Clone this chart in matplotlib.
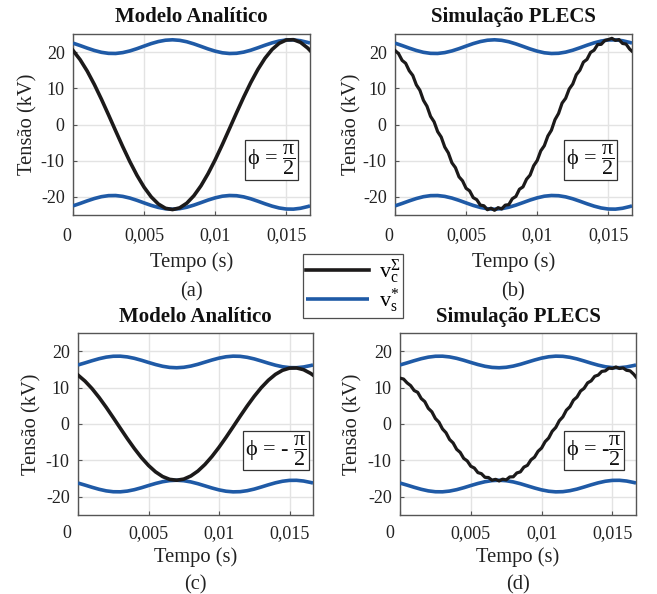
import matplotlib
matplotlib.use("Agg")
import matplotlib.pyplot as plt
import matplotlib.transforms as mtransforms
import numpy as np

plt.rcParams['font.family'] = ['Liberation Serif', 'DejaVu Serif']
plt.rcParams['mathtext.fontset'] = 'custom'
plt.rcParams['mathtext.rm'] = 'Liberation Serif'
plt.rcParams['mathtext.it'] = 'Liberation Serif:italic'
plt.rcParams['mathtext.bf'] = 'Liberation Serif:bold'

# ---------------- data ----------------
# time grid for analytic curves (s)
t_coarse = [0.0, 0.0005, 0.001, 0.0015, 0.002, 0.0025, 0.003, 0.0035, 0.004, 0.0045,
            0.005, 0.0055, 0.006, 0.0065, 0.007, 0.0075, 0.008, 0.0085, 0.009, 0.0095,
            0.010, 0.0105, 0.011, 0.0115, 0.012, 0.0125, 0.013, 0.0135, 0.014, 0.0145,
            0.015, 0.0155, 0.016, 0.0165, 0.016667]

# time grid for PLECS curves (s)
t_fine = [0.0, 0.00025, 0.0005, 0.00075, 0.001, 0.00125, 0.0015, 0.00175, 0.002, 0.00225,
          0.0025, 0.00275, 0.003, 0.00325, 0.0035, 0.00375, 0.004, 0.00425, 0.0045, 0.00475,
          0.005, 0.00525, 0.0055, 0.00575, 0.006, 0.00625, 0.0065, 0.00675, 0.007, 0.00725,
          0.0075, 0.00775, 0.008, 0.00825, 0.0085, 0.00875, 0.009, 0.00925, 0.0095, 0.00975,
          0.010, 0.01025, 0.0105, 0.01075, 0.011, 0.01125, 0.0115, 0.01175, 0.012, 0.01225,
          0.0125, 0.01275, 0.013, 0.01325, 0.0135, 0.01375, 0.014, 0.01425, 0.0145, 0.01475,
          0.015, 0.01525, 0.0155, 0.01575, 0.016, 0.01625, 0.0165, 0.016667]

# (a) analytic, phi = pi/2  (kV)
vc_a = [20.45, 17.91, 14.75, 11.06, 6.98, 2.65, -1.77, -6.13, -10.27, -14.05,
        -17.33, -20.00, -21.96, -23.14, -23.50, -23.03, -21.74, -19.68, -16.93, -13.57,
        -9.74, -5.56, -1.18, 3.24, 7.54, 11.58, 15.20, 18.29, 20.73, 22.44,
        23.35, 23.43, 22.69, 21.14, 20.45]
vs_up_1 = [22.48, 21.81, 21.10, 20.45, 19.94, 19.65, 19.62, 19.86, 20.32, 20.95,
           21.66, 22.35, 22.91, 23.28, 23.40, 23.25, 22.86, 22.27, 21.58, 20.87,
           20.26, 19.81, 19.61, 19.67, 19.99, 20.52, 21.19, 21.90, 22.55, 23.06,
           23.35, 23.38, 23.14, 22.68, 22.48]
vs_lo_1 = [-22.48, -21.81, -21.10, -20.45, -19.94, -19.65, -19.62, -19.86, -20.32, -20.95,
           -21.66, -22.35, -22.91, -23.28, -23.40, -23.25, -22.86, -22.27, -21.58, -20.87,
           -20.26, -19.81, -19.61, -19.67, -19.99, -20.52, -21.19, -21.90, -22.55, -23.06,
           -23.35, -23.38, -23.14, -22.68, -22.48]

# (b) PLECS, phi = pi/2 (kV)
vc_b = [20.45, 19.57, 17.71, 16.91, 14.85, 13.56, 10.96, 9.46, 6.68, 5.04,
        2.25, 0.74, -1.97, -3.47, -6.23, -7.84, -10.57, -11.92, -14.45, -15.56,
        -17.63, -18.34, -20.20, -20.77, -22.26, -22.45, -23.54, -23.12, -23.70, -22.97,
        -23.33, -22.28, -22.14, -20.50, -19.88, -17.89, -17.23, -15.12, -13.97, -11.41,
        -9.94, -7.28, -5.86, -3.18, -1.58, 1.33, 3.04, 5.91, 7.24, 9.80,
        11.18, 13.75, 15.00, 17.23, 17.99, 19.90, 20.53, 22.08, 22.14, 23.20,
        23.45, 23.80, 23.23, 23.46, 22.39, 22.21, 20.84, 20.25]

# (c) analytic, phi = -pi/2 (kV)
vc_c = [13.44, 11.77, 9.70, 7.27, 4.59, 1.74, -1.16, -4.03, -6.75, -9.24,
        -11.39, -13.15, -14.44, -15.21, -15.45, -15.14, -14.29, -12.94, -11.13, -8.92,
        -6.40, -3.66, -0.78, 2.13, 4.96, 7.61, 9.99, 12.02, 13.63, 14.75,
        15.35, 15.40, 14.92, 13.90, 13.44]
vs_up_2 = [16.22, 16.79, 17.39, 17.94, 18.37, 18.61, 18.63, 18.43, 18.04, 17.51,
           16.91, 16.34, 15.86, 15.55, 15.45, 15.58, 15.91, 16.40, 16.99, 17.58,
           18.10, 18.47, 18.64, 18.59, 18.32, 17.88, 17.31, 16.71, 16.16, 15.73,
           15.49, 15.47, 15.67, 16.06, 16.22]
vs_lo_2 = [-16.22, -16.79, -17.39, -17.94, -18.37, -18.61, -18.63, -18.43, -18.04, -17.51,
           -16.91, -16.34, -15.86, -15.55, -15.45, -15.58, -15.91, -16.40, -16.99, -17.58,
           -18.10, -18.47, -18.64, -18.59, -18.32, -17.88, -17.31, -16.71, -16.16, -15.73,
           -15.49, -15.47, -15.67, -16.06, -16.22]

# (d) PLECS, phi = -pi/2 (kV)
vc_d = [12.60, 12.35, 11.30, 10.55, 9.20, 8.70, 7.00, 6.15, 4.30, 3.35,
        1.50, 0.50, -1.35, -2.40, -4.25, -5.20, -6.95, -7.80, -9.45, -10.15,
        -11.60, -12.10, -13.35, -13.65, -14.65, -14.70, -15.45, -15.20, -15.65, -15.15,
        -15.35, -14.55, -14.50, -13.45, -13.15, -11.85, -11.35, -9.85, -9.10, -7.50,
        -6.60, -4.85, -3.85, -2.00, -0.95, 0.90, 1.95, 3.80, 4.75, 6.55,
        7.40, 9.05, 9.80, 11.30, 11.85, 13.10, 13.45, 14.45, 14.60, 15.35,
        15.25, 15.65, 15.25, 15.40, 14.75, 14.60, 13.70, 12.90]

x_ticks = [0, 0.005, 0.01, 0.015]
x_ticklabels = ['0', '0,005', '0,01', '0,015']
y_ticks = [-20, -10, 0, 10, 20]
y_ticklabels = ['-20', '-10', '0', '10', '20']
titles = ['Modelo Analítico', 'Simulação PLECS', 'Modelo Analítico', 'Simulação PLECS']
letters = ['(a)', '(b)', '(c)', '(d)']
phi_labels = [r'ϕ = $\dfrac{\mathrm{\pi}}{2}$', r'ϕ = $\dfrac{\mathrm{\pi}}{2}$',
              r'ϕ = - $\dfrac{\mathrm{\pi}}{2}$', r'ϕ = -$\dfrac{\mathrm{\pi}}{2}$']
legend_labels = [r'$\mathrm{v}_\mathrm{c}^{\Sigma}$', r'$\mathrm{v}_\mathrm{s}^{*}$']

# ---------------- style ----------------
BLACK = '#1c1a1a'
BLUE = '#1f5aa6'
SPINE = '#555555'
GRID = '#e3e3e3'
TXT = '#222222'
FS_TICK = 13
FS_LAB = 14.8
FS_TITLE = 15

W, H = 657, 594
fig = plt.figure(figsize=(W / 100, H / 100), dpi=100)

def px_axes(l, r, t, b):
    return fig.add_axes([l / W, 1 - b / H, (r - l) / W, (b - t) / H])

boxes = [(73, 310, 34, 215), (395, 632, 34, 215), (78, 313, 333, 515), (400, 636, 333, 515)]
phi_pos = [(0.838, 0.304), (0.825, 0.304), (0.843, 0.354), (0.822, 0.354)]
zero_shift = [-6, -6, -11, -10]
tick_pad = [9, 9, 7, 7]
xlabel_off = [47, 47, 42, 42]   # px below axes bottom (label centre)
letter_off = [77, 77, 70, 70]
ylabel_x = [28, 352, 32, 353]   # px, label centre
title_off = [17, 17, 16, 16]     # px above axes top (centre)

series = [
    (t_coarse, vc_a, vs_up_1, vs_lo_1),
    (t_fine, vc_b, vs_up_1, vs_lo_1),
    (t_coarse, vc_c, vs_up_2, vs_lo_2),
    (t_fine, vc_d, vs_up_2, vs_lo_2),
]

handles = None
for i, (bx, (tt, vc, up, lo)) in enumerate(zip(boxes, series)):
    l, r, t, b = bx
    hpx = b - t
    wpx = r - l
    ax = px_axes(*bx)
    hb, = ax.plot(t_coarse, up, color=BLUE, lw=2.6, solid_capstyle='butt', zorder=3)
    ax.plot(t_coarse, lo, color=BLUE, lw=2.6, solid_capstyle='butt', zorder=3)
    hk, = ax.plot(tt, vc, color=BLACK, lw=2.6 if i % 2 == 0 else 2.3,
                  solid_joinstyle='round', zorder=4)
    if handles is None:
        handles = [hk, hb]
    ax.set_xlim(0, 1 / 60)
    ax.set_ylim(-25, 25)
    ax.set_xticks(x_ticks)
    ax.set_xticklabels(x_ticklabels)
    ax.set_yticks(y_ticks)
    ax.set_yticklabels(y_ticklabels)
    ax.grid(True, color=GRID, lw=1.0, zorder=0)
    ax.set_axisbelow(True)
    for s in ax.spines.values():
        s.set_color(SPINE)
        s.set_linewidth(1.0)
    ax.tick_params(direction='in', length=3, width=0.8, color=SPINE,
                   labelsize=FS_TICK, labelcolor=TXT, pad=6)
    ax.tick_params(axis='x', pad=tick_pad[i])
    lab0 = ax.get_xticklabels()[0]
    lab0.set_transform(lab0.get_transform() +
                       mtransforms.ScaledTranslation(zero_shift[i] / 100, 0, fig.dpi_scale_trans))
    ax.text(0.5, 1 + title_off[i] / hpx, titles[i], transform=ax.transAxes,
            ha='center', va='center', fontsize=FS_TITLE, fontweight='bold', color='#111111')
    ax.set_xlabel('Tempo (s)', fontsize=FS_LAB, color=TXT)
    ax.xaxis.set_label_coords(0.5, -xlabel_off[i] / hpx)
    ax.xaxis.label.set_va('center')
    ax.set_ylabel('Tensão (kV)', fontsize=FS_LAB, color=TXT)
    ax.yaxis.set_label_coords((ylabel_x[i] - l) / wpx, 0.5)
    ax.yaxis.label.set_va('center')
    ax.text(0.5, -letter_off[i] / hpx, letters[i], transform=ax.transAxes,
            ha='center', va='center', fontsize=FS_LAB, color=TXT)
    ax.text(phi_pos[i][0], phi_pos[i][1], phi_labels[i], transform=ax.transAxes,
            ha='center', va='center', fontsize=16, color='#111111', zorder=6,
            bbox=dict(boxstyle='square,pad=0.1', facecolor='white',
                      edgecolor='#333333', linewidth=0.9))

leg = fig.legend(handles, legend_labels, loc='upper left',
                 bbox_to_anchor=(303 / W, 1 - 254 / H), fontsize=16,
                 frameon=True, fancybox=False, edgecolor='#222222',
                 handlelength=2.8, handletextpad=0.45, borderpad=0.15,
                 labelspacing=0.05, borderaxespad=0)
leg.get_frame().set_linewidth(0.9)

fig.savefig('out.png', dpi=100)
